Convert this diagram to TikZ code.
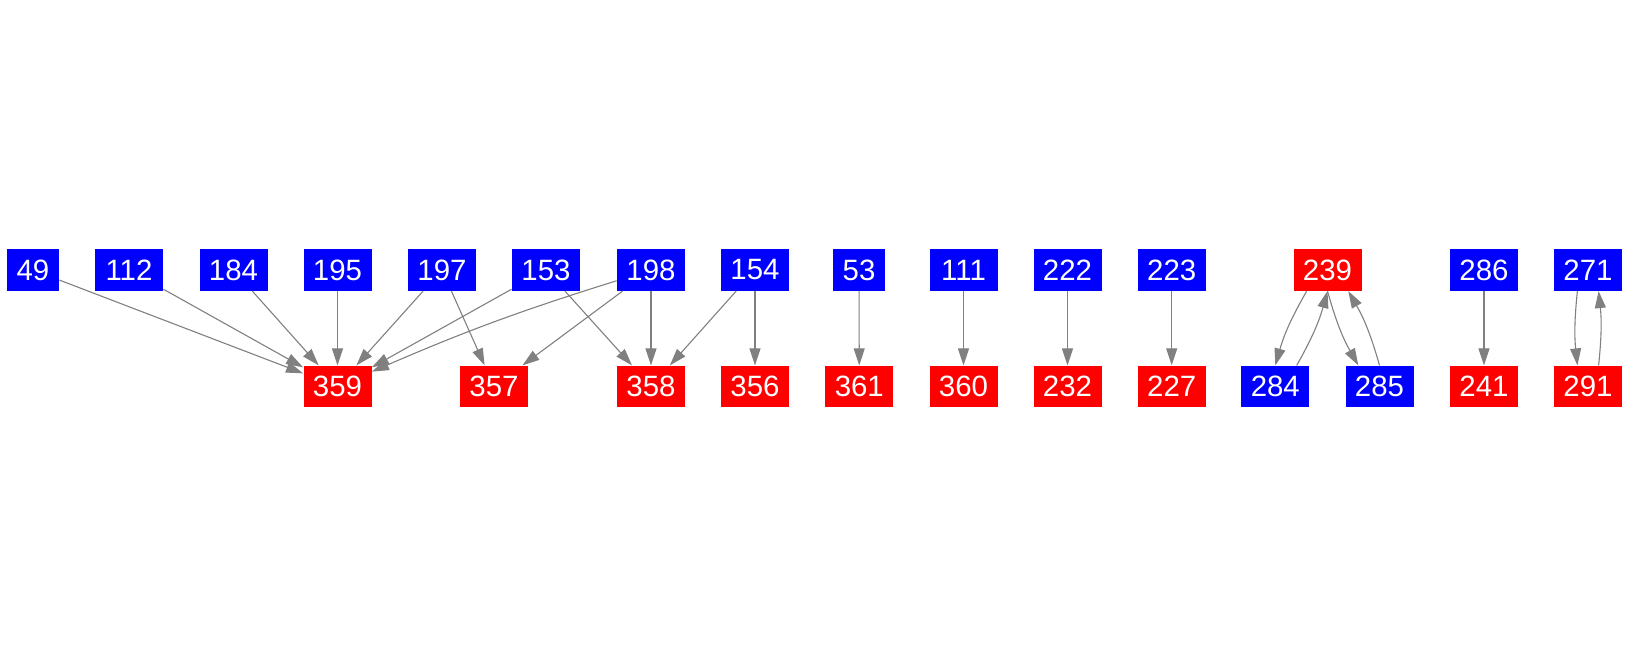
\documentclass[tikz,border=0pt]{standalone}
\usepackage{fontspec}
\setmainfont{Liberation Sans}
\usetikzlibrary{arrows.meta}
\definecolor{nblue}{RGB}{0,0,255}
\definecolor{nred}{RGB}{255,0,0}
\definecolor{egray}{RGB}{128,128,128}
\begin{document}
\begin{tikzpicture}[x=0.5pt,y=-0.5pt,
  box/.style={rectangle, inner sep=0pt, minimum height=20.7pt, text=white,
    font=\fontsize{14.7}{17}\selectfont},
  wide/.style={minimum width=34pt},
  narrow/.style={minimum width=26pt},
  bl/.style={box, fill=nblue},
  rd/.style={box, fill=nred},
  edge/.style={draw=egray, line width=0.55pt, -{Triangle[length=8.5pt,width=5.5pt]}}]
\useasboundingbox (0,0) rectangle (1629,656);
% top row
\node[bl,narrow] (n49)  at (33,270)   {49};
\node[bl,wide]   (n112) at (129,270)  {112};
\node[bl,wide]   (n184) at (233.5,270) {184};
\node[bl,wide]   (n195) at (337.5,270) {195};
\node[bl,wide]   (n197) at (442,270)  {197};
\node[bl,wide]   (n153) at (546,270)  {153};
\node[bl,wide]   (n198) at (651,270)  {198};
\node[bl,wide]   (n154) at (755,270)  {154};
\node[bl,narrow] (n53)  at (859,270)  {53};
\node[bl,wide]   (n111) at (963.5,270) {111};
\node[bl,wide]   (n222) at (1067.5,270) {222};
\node[bl,wide]   (n223) at (1171.7,270) {223};
\node[rd,wide]   (n239) at (1327.5,270) {239};
\node[bl,wide]   (n286) at (1484,270) {286};
\node[bl,wide]   (n271) at (1588,270) {271};
% bottom row
\node[rd,wide] (n359) at (337.5,386.5) {359};
\node[rd,wide] (n357) at (494,386.5) {357};
\node[rd,wide] (n358) at (651,386.5) {358};
\node[rd,wide] (n356) at (755,386.5) {356};
\node[rd,wide] (n361) at (859.3,386.5) {361};
\node[rd,wide] (n360) at (963.5,386.5) {360};
\node[rd,wide] (n232) at (1067.5,386.5) {232};
\node[rd,wide] (n227) at (1171.7,386.5) {227};
\node[bl,wide] (n284) at (1275.3,386.5) {284};
\node[bl,wide] (n285) at (1379.5,386.5) {285};
\node[rd,wide] (n241) at (1484,386.5) {241};
\node[rd,wide] (n291) at (1588,386.5) {291};
% edges
\draw[edge] (n49) -- (n359);
\draw[edge] (n112) -- (n359);
\draw[edge] (n184) -- (n359);
\draw[edge] (n195) -- (n359);
\draw[edge] (n197) -- (n359);
\draw[edge] (n197) -- (n357);
\draw[edge] (n153) -- (n359);
\draw[edge] (n153) -- (n358);
\draw[edge] (n198) to[bend right=3] (n359);
\draw[edge] (n198) -- (n357);
\draw[edge] (n198) -- (n358);
\draw[edge] (n154) -- (n358);
\draw[edge] (n154) -- (n356);
\draw[edge] (n53) -- (n361);
\draw[edge] (n111) -- (n360);
\draw[edge] (n222) -- (n232);
\draw[edge] (n223) -- (n227);
\draw[edge] (n286) -- (n241);
\draw[edge] ([xshift=-10.4pt]n239.south) to[bend right=7] (n284.north);
\draw[edge] ([xshift=10.7pt]n284.north) to[bend right=7] (n239.south);
\draw[edge] (n239.south) to[bend right=7] ([xshift=-10.6pt]n285.north);
\draw[edge] (n285.north) to[bend right=7] ([xshift=10.4pt]n239.south);
\draw[edge] ([xshift=-5.3pt]n271.south) to[bend right=6] ([xshift=-5.3pt]n291.north);
\draw[edge] ([xshift=5.3pt]n291.north) to[bend right=6] ([xshift=5.3pt]n271.south);
\end{tikzpicture}
\end{document}
